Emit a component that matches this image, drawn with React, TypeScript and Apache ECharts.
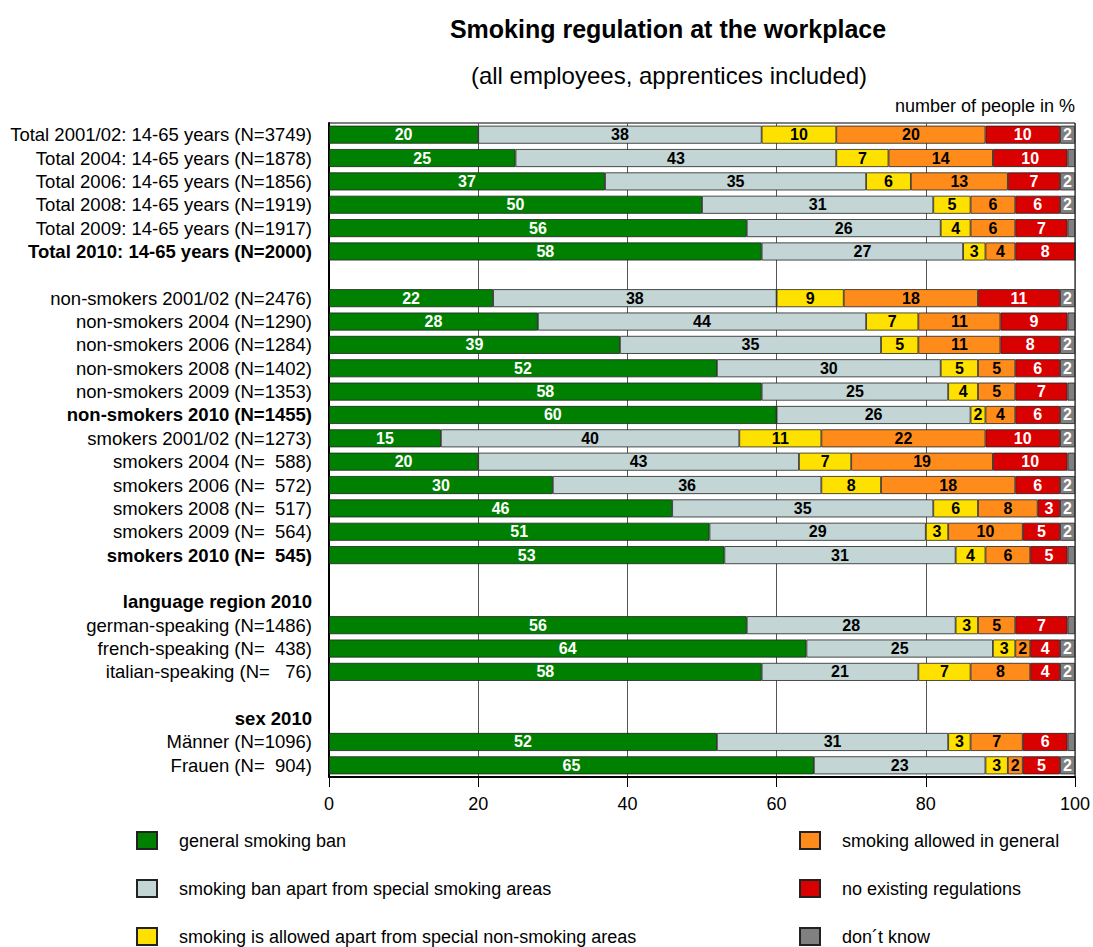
import React, { useEffect, useRef } from "react";
import * as echarts from "echarts";

const categories = [
  "Total 2001/02: 14-65 years (N=3749)",
  "Total 2004: 14-65 years (N=1878)",
  "Total 2006: 14-65 years (N=1856)",
  "Total 2008: 14-65 years (N=1919)",
  "Total 2009: 14-65 years (N=1917)",
  "Total 2010: 14-65 years (N=2000)",
  "",
  "non-smokers 2001/02 (N=2476)",
  "non-smokers 2004 (N=1290)",
  "non-smokers 2006 (N=1284)",
  "non-smokers 2008 (N=1402)",
  "non-smokers 2009 (N=1353)",
  "non-smokers 2010 (N=1455)",
  "smokers 2001/02 (N=1273)",
  "smokers 2004 (N=  588)",
  "smokers 2006 (N=  572)",
  "smokers 2008 (N=  517)",
  "smokers 2009 (N=  564)",
  "smokers 2010 (N=  545)",
  " ",
  "language region 2010",
  "german-speaking (N=1486)",
  "french-speaking (N=  438)",
  "italian-speaking (N=   76)",
  "  ",
  "sex 2010",
  "Männer (N=1096)",
  "Frauen (N=  904)",
];

const boldCategories = [
  "Total 2010: 14-65 years (N=2000)",
  "non-smokers 2010 (N=1455)",
  "smokers 2010 (N=  545)",
  "language region 2010",
  "sex 2010",
];

const seriesNames = [
  "general smoking ban",
  "smoking ban apart from special smoking areas",
  "smoking is allowed apart from special non-smoking areas",
  "smoking allowed in general",
  "no existing regulations",
  "don´t know",
];

const generalBan = [20, 25, 37, 50, 56, 58, null, 22, 28, 39, 52, 58, 60, 15, 20, 30, 46, 51, 53, null, null, 56, 64, 58, null, null, 52, 65];
const banApart = [38, 43, 35, 31, 26, 27, null, 38, 44, 35, 30, 25, 26, 40, 43, 36, 35, 29, 31, null, null, 28, 25, 21, null, null, 31, 23];
const allowedApart = [10, 7, 6, 5, 4, 3, null, 9, 7, 5, 5, 4, 2, 11, 7, 8, 6, 3, 4, null, null, 3, 3, 7, null, null, 3, 3];
const allowedGeneral = [20, 14, 13, 6, 6, 4, null, 18, 11, 11, 5, 5, 4, 22, 19, 18, 8, 10, 6, null, null, 5, 2, 8, null, null, 7, 2];
const noRegulation = [10, 10, 7, 6, 7, 8, null, 11, 9, 8, 6, 7, 6, 10, 10, 6, 3, 5, 5, null, null, 7, 4, 4, null, null, 6, 5];
const dontKnow = [2, 1, 2, 2, 1, 0, null, 2, 1, 2, 2, 1, 2, 2, 1, 2, 2, 2, 1, null, null, 1, 2, 2, null, null, 1, 2];

const xTicks = [0, 20, 40, 60, 80, 100];

const colors = ["#008000", "#c3d5d5", "#ffe100", "#ff8c1a", "#d90000", "#808080"];
const labelColors = ["#ffffff", "#000000", "#000000", "#000000", "#ffffff", "#ffffff"];

const FONT = "'Liberation Sans', Arial, Helvetica, sans-serif";

export default function App() {
  const ref = useRef<HTMLDivElement>(null);

  useEffect(() => {
    if (!ref.current) return;
    const chart = echarts.init(ref.current, undefined, { renderer: "svg" });
    const allData = [generalBan, banApart, allowedApart, allowedGeneral, noRegulation, dontKnow];

    const series = allData.map((d, i) => ({
      name: seriesNames[i],
      type: "bar",
      stack: "total",
      barWidth: 18,
      data: d.map((v) => (v === null ? "-" : v)),
      itemStyle: { color: colors[i], borderColor: "#222", borderWidth: 0.8 },
      label: {
        show: true,
        position: "inside",
        color: labelColors[i],
        fontFamily: FONT,
        fontWeight: "bold",
        fontSize: 16,
        formatter: (p: any) => (typeof p.value === "number" && p.value >= 2 ? String(p.value) : ""),
      },
      emphasis: { disabled: true },
    }));

    const legendCommon = {
      orient: "vertical",
      top: 831,
      itemWidth: 20,
      itemHeight: 17,
      itemGap: 29,
      padding: 0,
      icon: "rect",
      selectedMode: false,
      textStyle: { fontSize: 18, color: "#000", fontFamily: FONT, padding: [0, 0, 0, 17] },
    };

    chart.setOption({
      animation: false,
      textStyle: { fontFamily: FONT },
      title: [
        {
          text: "Smoking regulation at the workplace",
          left: 668,
          top: 16,
          textAlign: "center",
          padding: 0,
          textStyle: { fontSize: 25, fontWeight: "bold", color: "#000", fontFamily: FONT },
        },
        {
          text: "(all employees, apprentices included)",
          left: 669,
          top: 63,
          textAlign: "center",
          padding: 0,
          textStyle: { fontSize: 24, fontWeight: "normal", color: "#000", fontFamily: FONT },
        },
        {
          text: "number of people in %",
          right: 18,
          top: 97,
          padding: 0,
          textStyle: { fontSize: 18, fontWeight: "normal", color: "#000", fontFamily: FONT },
        },
      ],
      legend: [
        { ...legendCommon, left: 136, data: seriesNames.slice(0, 3) },
        { ...legendCommon, left: 799, data: seriesNames.slice(3, 6) },
      ],
      grid: {
        left: 329,
        right: 16,
        top: 123,
        bottom: 170,
        show: true,
        borderColor: "#000",
        borderWidth: 1,
        backgroundColor: "transparent",
      },
      xAxis: {
        type: "value",
        min: 0,
        max: 100,
        interval: 20,
        axisLine: { show: true, lineStyle: { color: "#000", width: 2 } },
        axisTick: { show: true, length: 10, lineStyle: { color: "#000", width: 1 } },
        axisLabel: {
          fontSize: 18,
          color: "#000",
          margin: 18,
          fontFamily: FONT,
          formatter: (v: number) => (xTicks.includes(v) ? String(v) : ""),
        },
        splitLine: { show: true, lineStyle: { color: "#555", width: 1 } },
      },
      yAxis: {
        type: "category",
        inverse: true,
        data: categories,
        axisLine: { show: true, lineStyle: { color: "#000", width: 2 } },
        axisTick: { show: false },
        axisLabel: {
          fontSize: 18.5,
          color: "#000",
          margin: 17,
          interval: 0,
          fontFamily: FONT,
          formatter: (v: string) => (boldCategories.includes(v) ? `{b|${v}}` : v),
          rich: {
            b: { fontWeight: "bold", fontSize: 18.5, color: "#000", fontFamily: FONT },
          },
        },
      },
      series,
    });

    return () => chart.dispose();
  }, []);

  return (
    <div
      ref={ref}
      style={{ position: "fixed", left: 0, top: 0, width: 1093, height: 947, background: "#fff" }}
    />
  );
}
